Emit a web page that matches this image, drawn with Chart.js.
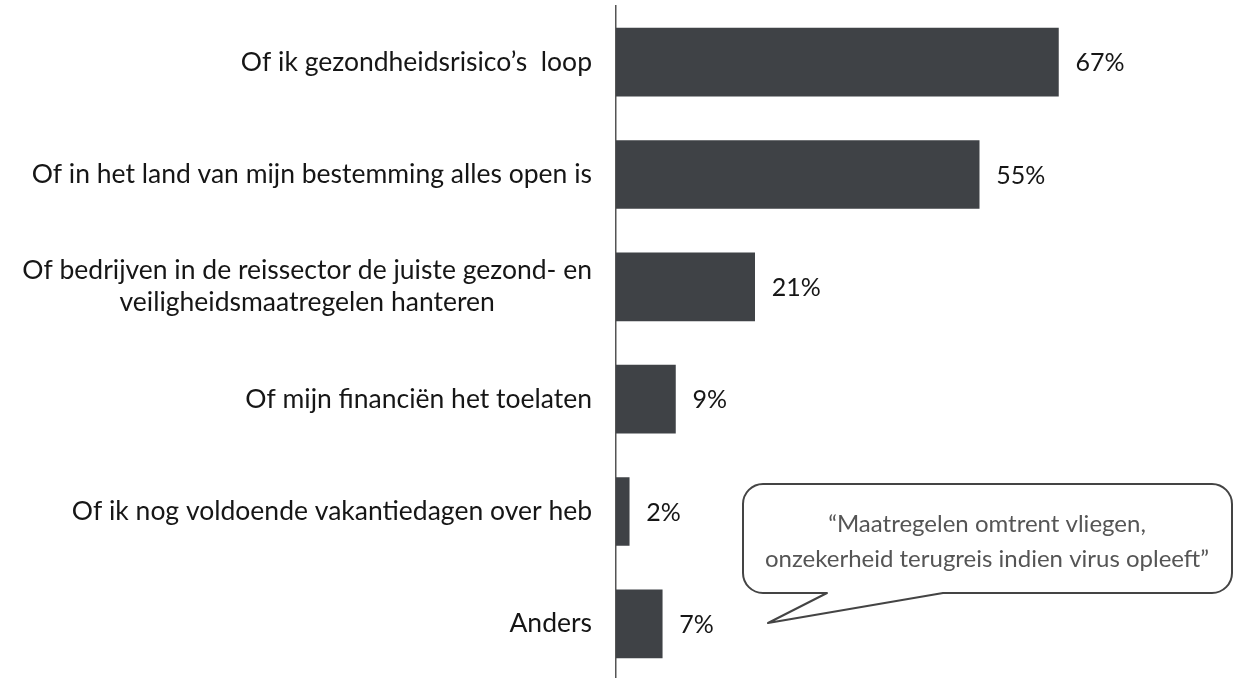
<!DOCTYPE html>
<html>
<head>
<meta charset="utf-8">
<script src="https://cdn.jsdelivr.net/npm/chart.js@4"></script>
<style>
  html, body { margin: 0; padding: 0; background: #fff; overflow: hidden; }
  #wrap { width: 1240px; height: 680px; }
</style>
</head>
<body>
<div id="wrap"><canvas id="grafiek" width="1240" height="680"></canvas></div>
<script>
const categorieen = [
  "Of ik gezondheidsrisico’s  loop",
  "Of in het land van mijn bestemming alles open is",
  ["Of bedrijven in de reissector de juiste gezond- en", "veiligheidsmaatregelen hanteren"],
  "Of mijn financiën het toelaten",
  "Of ik nog voldoende vakantiedagen over heb",
  "Anders"
];
const percentages = [67, 55, 21, 9, 2, 7];
const citaat = ["“Maatregelen omtrent vliegen,", "onzekerheid terugreis indien virus opleeft”"];

const LETTER = "Lato, 'Open Sans', sans-serif";

// labels links van de as (tweeregelig label gecentreerd)
const labelPlugin = {
  id: "labels",
  afterDraw(chart) {
    const ctx = chart.ctx;
    const y = chart.scales.y;
    const rechts = y.right - 24;
    ctx.save();
    ctx.font = "26.5px " + LETTER;
    ctx.fillStyle = "#161616";
    ctx.textBaseline = "middle";
    categorieen.forEach((lab, i) => {
      const py = y.getPixelForTick(i);
      if (Array.isArray(lab)) {
        const breed = Math.max(...lab.map(l => ctx.measureText(l).width));
        const cx = rechts - breed / 2;
        ctx.textAlign = "center";
        lab.forEach((l, j) => ctx.fillText(l, cx, py + (j - (lab.length - 1) / 2) * 32));
      } else {
        ctx.textAlign = "right";
        ctx.fillText(lab, rechts, py);
      }
    });
    // waarden achter de balken
    const x = chart.scales.x;
    ctx.font = "25px " + LETTER;
    ctx.textAlign = "left";
    percentages.forEach((v, i) => {
      ctx.fillText(v + "%", x.getPixelForValue(v) + 17, y.getPixelForTick(i) + 1);
    });
    // tekstballon
    ctx.strokeStyle = "#444";
    ctx.lineWidth = 2;
    ctx.lineJoin = "round";
    const L = 743, T = 484, R = 1232, B = 593, r = 20;
    ctx.beginPath();
    ctx.moveTo(L + r, T);
    ctx.lineTo(R - r, T);
    ctx.arcTo(R, T, R, T + r, r);
    ctx.lineTo(R, B - r);
    ctx.arcTo(R, B, R - r, B, r);
    ctx.lineTo(943, B);
    ctx.lineTo(768, 623);
    ctx.lineTo(827, B);
    ctx.lineTo(L + r, B);
    ctx.arcTo(L, B, L, B - r, r);
    ctx.lineTo(L, T + r);
    ctx.arcTo(L, T, L + r, T, r);
    ctx.closePath();
    ctx.fillStyle = "#fff";
    ctx.fill();
    ctx.stroke();
    ctx.font = "24px " + LETTER;
    ctx.fillStyle = "#555";
    ctx.textAlign = "center";
    ctx.fillText(citaat[0], 987, 524);
    ctx.fillText(citaat[1], 987, 559);
    ctx.restore();
  }
};

new Chart(document.getElementById("grafiek"), {
  type: "bar",
  data: {
    labels: categorieen,
    datasets: [{
      data: percentages,
      backgroundColor: "#3f4246",
      barThickness: 68
    }]
  },
  options: {
    indexAxis: "y",
    responsive: false,
    animation: false,
    layout: { padding: { top: 6, bottom: 0, right: 0 } },
    plugins: { legend: { display: false }, tooltip: { enabled: false } },
    scales: {
      x: { display: false, min: 0, max: 94.5 },
      y: {
        grid: { display: false, drawTicks: false },
        border: { display: true, color: "#555", width: 1.5 },
        ticks: { display: false },
        afterFit(scale) { scale.width = 616; }
      }
    }
  },
  plugins: [labelPlugin]
});
</script>
</body>
</html>
